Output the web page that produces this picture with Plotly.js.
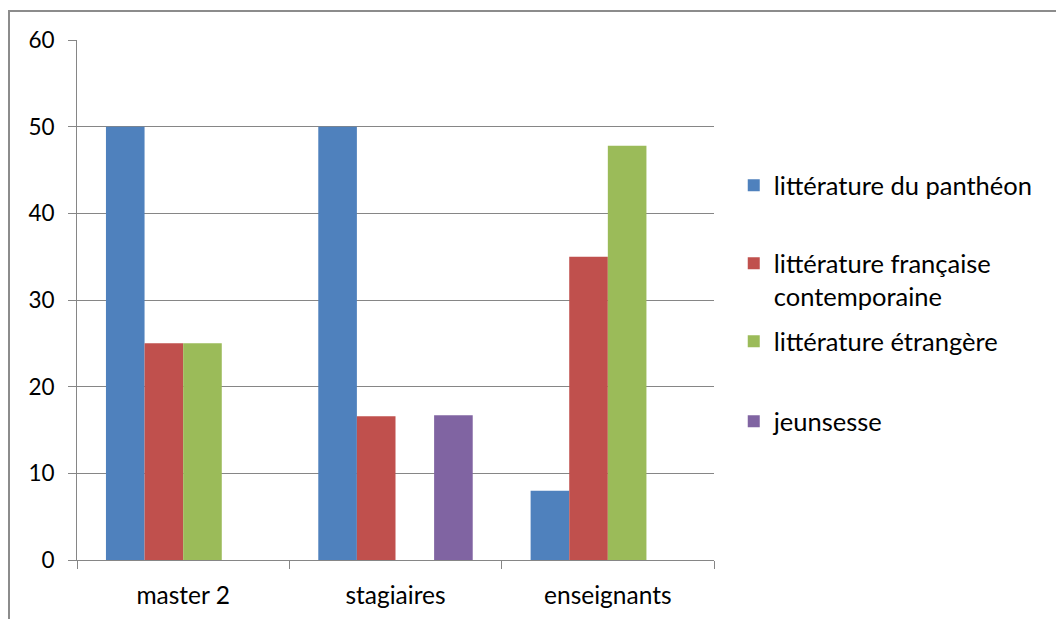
<!DOCTYPE html>
<html>
<head>
<meta charset="utf-8">
<script src="https://cdn.plot.ly/plotly-3.0.1.min.js"></script>
<style>
  html, body { margin: 0; padding: 0; background: #fff; }
  #frame { position: absolute; left: 8px; top: 10px; width: 1048px; height: 609px;
           border-top: 2px solid #8c8c8c; border-left: 2px solid #8c8c8c; box-sizing: border-box; }
  #chart { position: absolute; left: 0; top: 0; width: 1056px; height: 619px; }
</style>
</head>
<body>
<div id="frame"></div>
<div id="chart"></div>
<script>
const categories = ["master 2", "stagiaires", "enseignants"];
const seriesNames = ["littérature du panthéon", "littérature française<br>contemporaine", "littérature étrangère", "jeunsesse"];
const pantheon = [50, 50, 8];
const francaise = [25, 16.6, 35];
const etrangere = [25, 0, 47.8];
const jeunesse = [0, 16.7, 0];
const colors = ["#4F81BD", "#C0504D", "#9BBB59", "#8064A2"];
const yTicks = [0, 10, 20, 30, 40, 50, 60];

const FONT = "Lato, 'Liberation Sans', sans-serif";
const values = [pantheon, francaise, etrangere, jeunesse];
const legendIds = ["legend", "legend2", "legend3", "legend4"];
const traces = values.map((v, i) => ({
  type: "bar",
  x: categories,
  y: v,
  name: seriesNames[i],
  marker: { color: colors[i], line: { width: 0 } },
  legend: legendIds[i],
  hoverinfo: "x+y+name"
}));

function legendAt(y) {
  return {
    x: 1.031, xanchor: "left", y: y, yanchor: "top",
    bgcolor: "rgba(0,0,0,0)", borderwidth: 0,
    font: { family: FONT, size: 25.5, color: "#000" },
    valign: "top", itemwidth: 30
  };
}

const layout = {
  width: 1056, height: 619,
  margin: { l: 77, r: 342, t: 40, b: 59 },
  paper_bgcolor: "rgba(0,0,0,0)",
  plot_bgcolor: "rgba(0,0,0,0)",
  font: { family: FONT, size: 24.5, color: "#000" },
  barmode: "group",
  bargap: 0.2727,
  bargroupgap: 0,
  showlegend: true,
  legend: legendAt(0.765),
  legend2: legendAt(0.615),
  legend3: legendAt(0.465),
  legend4: legendAt(0.311),
  xaxis: {
    type: "category",
    showline: true, linecolor: "#868686", linewidth: 1,
    ticks: "outside", tickson: "boundaries", ticklen: 8, tickcolor: "#868686",
    showgrid: false, zeroline: false,
    tickfont: { family: FONT, size: 24.5, color: "#000" },
    ticklabelstandoff: 14
  },
  yaxis: {
    range: [0, 60],
    tickvals: yTicks,
    showline: true, linecolor: "#868686", linewidth: 1,
    ticks: "outside", ticklen: 8, tickcolor: "#868686",
    showgrid: true, gridcolor: "#868686", gridwidth: 1,
    zeroline: false,
    tickfont: { family: FONT, size: 22.5, color: "#000" },
    ticklabelstandoff: 9
  }
};

Plotly.newPlot("chart", traces, layout, { displayModeBar: false, staticPlot: true });
</script>
</body>
</html>
